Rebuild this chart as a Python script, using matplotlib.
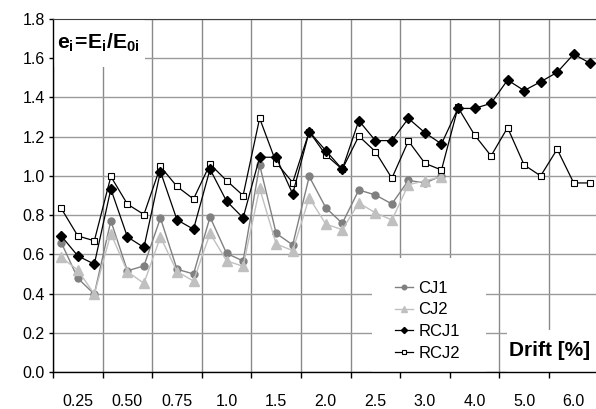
import numpy as np
import matplotlib
matplotlib.use("Agg")
import matplotlib.pyplot as plt
from matplotlib.patches import Rectangle

plt.rcParams["font.family"] = ["Liberation Sans", "DejaVu Sans"]
plt.rcParams["mathtext.fontset"] = "custom"
plt.rcParams["mathtext.rm"] = "Liberation Sans"
plt.rcParams["mathtext.bf"] = "Liberation Sans:bold"

# drift levels, three cycles each
drift_labels = ["0.25", "0.50", "0.75", "1.0", "1.5", "2.0", "2.5", "3.0", "4.0", "5.0", "6.0"]

cj1 = [0.66, 0.478, 0.397, 0.771, 0.516, 0.541, 0.785, 0.524, 0.50,
       0.79, 0.605, 0.566, 1.056, 0.707, 0.648, 0.997, 0.838, 0.758,
       0.928, 0.903, 0.857, 0.977, 0.964, 1.0]
cj2 = [0.584, 0.52, 0.397, 0.706, 0.512, 0.452, 0.689, 0.512, 0.464,
       0.707, 0.567, 0.539, 0.937, 0.653, 0.619, 0.889, 0.754, 0.726,
       0.862, 0.812, 0.775, 0.955, 0.975, 0.995]
rcj1 = [0.694, 0.592, 0.55, 0.933, 0.689, 0.635, 1.022, 0.776, 0.728,
        1.034, 0.871, 0.786, 1.095, 1.095, 0.908, 1.226, 1.129, 1.034,
        1.282, 1.18, 1.18, 1.293, 1.22, 1.163, 1.344, 1.344, 1.37,
        1.489, 1.435, 1.48, 1.528, 1.621, 1.574]
rcj2 = [0.834, 0.694, 0.669, 0.997, 0.856, 0.803, 1.048, 0.946, 0.882,
        1.06, 0.976, 0.90, 1.294, 1.068, 0.966, 1.226, 1.107, 1.034,
        1.203, 1.124, 0.988, 1.178, 1.064, 1.03, 1.349, 1.209, 1.102,
        1.246, 1.056, 1.0, 1.136, 0.964, 0.964]

n = len(rcj1)
x = np.arange(n)

fig = plt.figure(figsize=(5.96, 4.09), dpi=100)
ax = fig.add_axes([53 / 596, 37 / 409, 545.5 / 596, 353 / 409])

ax.plot(x[:len(cj1)], cj1, color="#808080", lw=1.0, marker="o", ms=5,
        mec="#808080", mfc="#808080", label="CJ1", zorder=3)
ax.plot(x[:len(cj2)], cj2, color="#c0c0c0", lw=1.0, marker="^", ms=6.5,
        mec="#c0c0c0", mfc="#c0c0c0", label="CJ2", zorder=3.1)
ax.plot(x, rcj2, color="black", lw=0.9, marker="s", ms=5,
        mec="black", mfc="white", mew=0.8, label="RCJ2", zorder=3.2)
ax.plot(x, rcj1, color="black", lw=0.9, marker="D", ms=4.8,
        mec="black", mfc="black", label="RCJ1", zorder=3.3)

ax.set_xlim(-0.5, n - 0.5)
ax.set_ylim(0, 1.8)

ax.set_xticks(np.arange(-0.5, n, 3))
ax.set_xticklabels([])
ax.set_xticks(np.arange(1, n, 3), minor=True)
ax.set_xticklabels(drift_labels, minor=True, fontsize=11.5)
ax.tick_params(axis="x", which="major", length=4.5, width=1, direction="out")
ax.tick_params(axis="x", which="minor", length=0, pad=15.5)

yt = np.arange(0, 1.81, 0.2)
ax.set_yticks(yt)
ax.set_yticklabels([f"{v:.1f}" for v in yt], fontsize=11.5)
ax.tick_params(axis="y", length=3, width=1, pad=3)

ax.set_axisbelow(True)
ax.grid(axis="x", which="major", color="#8a8a8a", lw=1.0)
ax.grid(axis="y", color="#9a9a9a", lw=1.0)

ax.spines["right"].set_visible(False)
ax.spines["top"].set_color("#404040")
for s in ["left", "bottom"]:
    ax.spines[s].set_color("black")
    ax.spines[s].set_linewidth(1.0)

# white boxes behind labels and legend
for bx in [(0, 0.864, 0.169, 0.136), (0.585, 0, 0.209, 0.323), (0.832, 0, 0.168, 0.119)]:
    ax.add_patch(Rectangle(bx[:2], bx[2], bx[3], transform=ax.transAxes,
                           facecolor="white", edgecolor="none", zorder=1))

ax.text(0.007, 0.915, r"$\mathbf{e_i\!=\!E_i/E_{0i}}$", transform=ax.transAxes,
        ha="left", va="baseline", fontsize=15.2, zorder=4)
ax.text(0.984, 0.045, "Drift [%]", transform=ax.transAxes, ha="right",
        va="baseline", fontsize=15, fontweight="bold", zorder=4)

h, l = ax.get_legend_handles_labels()
order = [0, 1, 3, 2]
ax.legend([h[i] for i in order], [l[i] for i in order], loc="lower left",
          bbox_to_anchor=(0.614, 0.012), borderaxespad=0, borderpad=0.4,
          frameon=False, fontsize=12, handlelength=1.08, handletextpad=0.36,
          labelspacing=0.41, markerscale=0.65)

fig.savefig("out.png", dpi=100)
